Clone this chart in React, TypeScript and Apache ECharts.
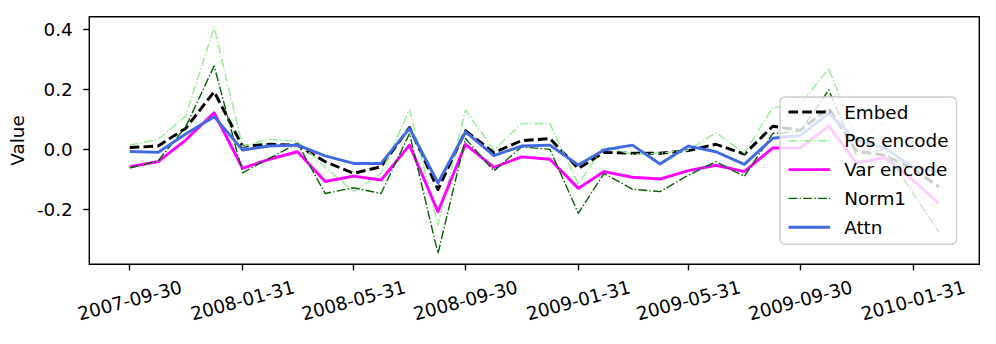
import React, { useEffect, useRef } from 'react';
import * as echarts from 'echarts';

const dates = [
  '2007-09-30', '2007-10-31', '2007-11-30', '2007-12-31', '2008-01-31', '2008-02-29',
  '2008-03-31', '2008-04-30', '2008-05-31', '2008-06-30', '2008-07-31', '2008-08-31',
  '2008-09-30', '2008-10-31', '2008-11-30', '2008-12-31', '2009-01-31', '2009-02-28',
  '2009-03-31', '2009-04-30', '2009-05-31', '2009-06-30', '2009-07-31', '2009-08-31',
  '2009-09-30', '2009-10-31', '2009-11-30', '2009-12-31', '2010-01-31', '2010-02-28',
];
const tickDates = [
  '2007-09-30', '2008-01-31', '2008-05-31', '2008-09-30',
  '2009-01-31', '2009-05-31', '2009-09-30', '2010-01-31',
];
const yTicks = [-0.2, 0.0, 0.2, 0.4];

const embed = [
  0.006, 0.011, 0.07, 0.192, 0.01, 0.017, 0.014, -0.041, -0.08, -0.058,
  0.073, -0.134, 0.062, -0.011, 0.029, 0.036, -0.064, -0.01, -0.013, -0.013,
  -0.004, 0.017, -0.016, 0.077, 0.064, 0.137, -0.005, -0.02, -0.065, -0.125,
];
const posEncode = [
  0.014, 0.033, 0.111, 0.407, 0.009, 0.034, 0.026, -0.06, -0.141, -0.08,
  0.133, -0.252, 0.131, -0.002, 0.086, 0.086, -0.116, 0.011, -0.017, -0.013,
  -0.002, 0.056, -0.013, 0.14, 0.148, 0.27, 0.03, 0.09, -0.14, -0.195,
];
const varEncode = [
  -0.058, -0.041, 0.031, 0.122, -0.063, -0.033, -0.008, -0.107, -0.089, -0.102,
  0.014, -0.208, 0.017, -0.06, -0.025, -0.033, -0.13, -0.074, -0.093, -0.099,
  -0.071, -0.053, -0.074, 0.005, 0.004, 0.078, -0.045, -0.027, -0.103, -0.18,
];
const norm1 = [
  -0.062, -0.038, 0.075, 0.278, -0.078, -0.03, 0.02, -0.147, -0.128, -0.147,
  0.053, -0.347, 0.036, -0.072, 0.008, 0.0, -0.213, -0.08, -0.133, -0.141,
  -0.086, -0.041, -0.09, 0.053, 0.06, 0.198, -0.02, 0.0, -0.148, -0.275,
];
const attn = [
  -0.007, -0.01, 0.051, 0.109, -0.002, 0.011, 0.014, -0.022, -0.047, -0.047,
  0.07, -0.112, 0.058, -0.021, 0.011, 0.014, -0.052, -0.002, 0.014, -0.049,
  0.011, -0.008, -0.05, 0.037, 0.046, 0.12, 0.03, 0.005, -0.06, -0.075,
];

const FONT = 'DejaVu Sans';
const FS = 18.4;

const DAY = 86400000;
const t0 = Date.parse(dates[0]);
const toDay = (d: string) => Math.round((Date.parse(d) - t0) / DAY);

export default function App() {
  const ref = useRef<HTMLDivElement>(null);
  useEffect(() => {
    if (!ref.current) return;
    const chart = echarts.init(ref.current, undefined, { renderer: 'svg' });
    const xs = dates.map(toDay);
    const span = xs[xs.length - 1];
    const tickDays = tickDates.map(toDay);
    const mk = (vals: number[]) => vals.map((v, i) => [xs[i], v]);

    const seriesDefs = [
      { name: 'Embed', data: embed, color: '#000000', width: 2.9, type: [9.6, 4.2] as any },
      { name: 'Pos encode', data: posEncode, color: '#90ee90', width: 1.4, type: [8.9, 2.2, 1.4, 2.2] as any },
      { name: 'Var encode', data: varEncode, color: '#ff00ff', width: 2.9, type: 'solid' as any },
      { name: 'Norm1', data: norm1, color: '#006400', width: 1.4, type: [8.9, 2.2, 1.4, 2.2] as any },
      { name: 'Attn', data: attn, color: '#4169e1', width: 2.9, type: 'solid' as any },
    ];

    chart.setOption({
      animation: false,
      backgroundColor: '#ffffff',
      grid: {
        left: 88.3,
        right: 16.7,
        top: 16.7,
        bottom: 79.7,
        show: true,
        borderColor: '#000',
        borderWidth: 1.4,
        backgroundColor: 'transparent',
      },
      xAxis: {
        type: 'value',
        min: -0.05 * span,
        max: span * 1.05,
        axisLine: { show: false, onZero: false },
        splitLine: { show: false },
        axisTick: {
          show: true,
          length: 6,
          lineStyle: { color: '#000', width: 1.4 },
          customValues: tickDays,
        },
        axisLabel: {
          customValues: tickDays,
          rotate: 15,
          align: 'center',
          verticalAlign: 'middle',
          margin: 36,
          color: '#000',
          fontFamily: FONT,
          fontSize: FS,
          formatter: (v: number) => {
            const i = tickDays.findIndex((d) => Math.abs(d - v) < 0.5);
            return i >= 0 ? tickDates[i] : '';
          },
        },
      },
      yAxis: {
        type: 'value',
        min: -0.383,
        max: 0.442,
        name: 'Value',
        nameLocation: 'middle',
        nameRotate: 90,
        nameGap: 63,
        nameTextStyle: { color: '#000', fontFamily: FONT, fontSize: FS },
        axisLine: { show: false, onZero: false },
        splitLine: { show: false },
        axisTick: {
          show: true,
          length: 6,
          lineStyle: { color: '#000', width: 1.4 },
          customValues: yTicks,
        },
        axisLabel: {
          customValues: yTicks,
          margin: 16.5,
          color: '#000',
          fontFamily: FONT,
          fontSize: FS,
          formatter: (v: number) => v.toFixed(1),
        },
      },
      legend: {
        orient: 'vertical',
        left: 780,
        top: 97,
        padding: [5, 8, 7, 7],
        itemWidth: 41.7,
        itemHeight: 14,
        itemGap: 8.8,
        backgroundColor: 'rgba(255,255,255,0.8)',
        borderColor: '#cccccc',
        borderWidth: 1.4,
        borderRadius: 5,
        itemStyle: { opacity: 0 },
        textStyle: {
          color: '#000',
          fontFamily: FONT,
          fontSize: FS,
          lineHeight: 20,
          padding: [0, 0, 0, 9],
        },
        data: seriesDefs.map((s) => ({
          name: s.name,
          itemStyle: { opacity: 0 },
          lineStyle: { color: s.color, width: s.width, type: s.type, cap: 'butt' },
        })),
      },
      series: seriesDefs.map((s) => ({
        name: s.name,
        type: 'line',
        data: mk(s.data),
        symbol: 'none',
        color: s.color,
        lineStyle: { color: s.color, width: s.width, type: s.type, join: 'round', cap: 'butt' },
        emphasis: { disabled: true },
      })),
    });
    return () => chart.dispose();
  }, []);
  return (
    <div
      ref={ref}
      style={{ position: 'fixed', left: 0, top: 0, width: 996, height: 344, background: '#fff' }}
    />
  );
}
